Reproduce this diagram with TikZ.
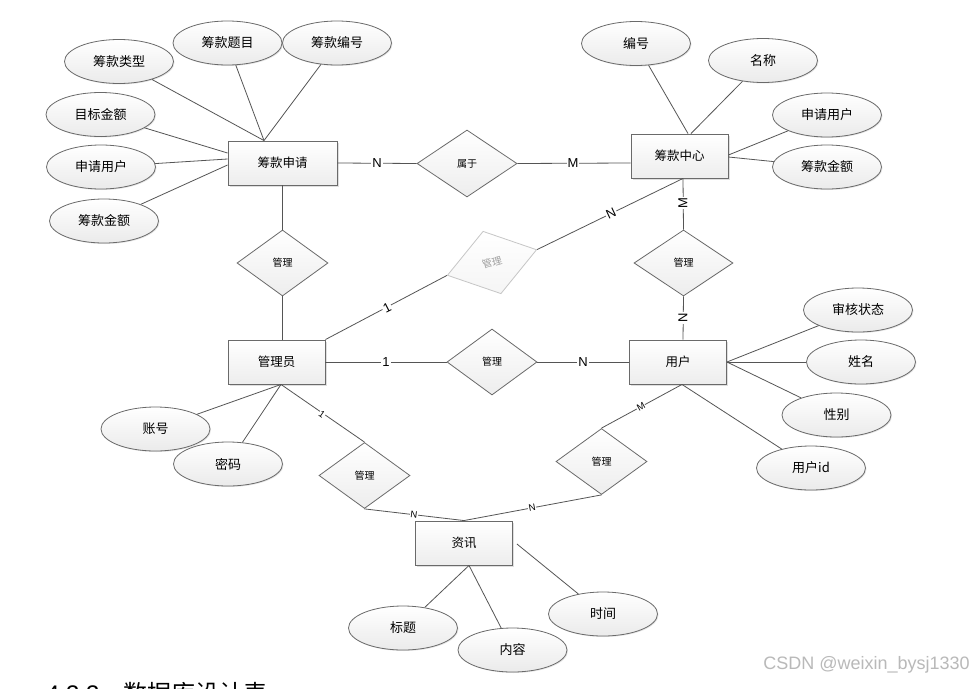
\documentclass[tikz,border=0pt]{standalone}
\usepackage{fontspec}
\setmainfont{Liberation Sans}
\newfontfamily\cjk{Noto Sans CJK SC}
\usetikzlibrary{shapes.geometric,shadows,calc}
\definecolor{lncol}{HTML}{555555}
\definecolor{boxcol}{HTML}{6A6A6A}
\begin{document}
\begin{tikzpicture}[x=1pt,y=-1pt,
  line/.style={draw=lncol, line width=0.8pt},
  ent/.style={rectangle, draw=boxcol, line width=0.9pt, top color=white, bottom color=gray!14,
    minimum width=97pt, minimum height=44pt, inner sep=0pt,
    font=\cjk\fontsize{12.5}{13}\selectfont,
    drop shadow={shadow xshift=1.5pt,shadow yshift=-1.5pt,opacity=0.25}},
  attr/.style={ellipse, draw=boxcol, line width=0.8pt, top color=white, bottom color=gray!16,
    minimum width=109pt, minimum height=44pt, inner sep=0pt,
    font=\cjk\fontsize{13}{13}\selectfont,
    drop shadow={shadow xshift=1pt,shadow yshift=-1pt,opacity=0.2}},
  rel/.style={diamond, draw=boxcol, line width=0.8pt, top color=white, bottom color=gray!14,
    minimum width=91pt, minimum height=66pt, inner sep=0pt,
    font=\cjk\fontsize{10}{10}\selectfont},
  card/.style={fill=white, inner sep=1pt, font=\fontsize{13}{13}\selectfont},
  cards/.style={fill=white, inner sep=0.5pt, font=\fontsize{9.5}{9.5}\selectfont}
]
\useasboundingbox[fill=white] (0,0) rectangle (977,688);

% entities
\node[ent, minimum width=109pt] (zsq) at (282.5,163) {筹款申请};
\node[ent] (zxzx) at (679.5,156) {筹款中心};
\node[ent] (gly) at (276.5,362) {管理员};
\node[ent] (yh) at (678,362) {用户};
\node[ent] (zx) at (464,543) {资讯};

% attributes
\node[attr] (a1) at (119,61.5) {筹款类型};
\node[attr] (a2) at (227.5,43) {筹款题目};
\node[attr] (a3) at (337,43) {筹款编号};
\node[attr] (a4) at (100.5,114.5) {目标金额};
\node[attr] (a5) at (101,167) {申请用户};
\node[attr] (a6) at (104,221) {筹款金额};
\node[attr] (b1) at (636,43.5) {编号};
\node[attr] (b2) at (763,60.5) {名称};
\node[attr] (b3) at (827,115) {申请用户};
\node[attr] (b4) at (827,167) {筹款金额};
\node[attr] (c1) at (858,310) {审核状态};
\node[attr] (c2) at (861,362) {姓名};
\node[attr] (c3) at (836.5,415) {性别};
\node[attr] (c4) at (811,468) {用户id};
\node[attr] (d1) at (155.5,429) {账号};
\node[attr] (d2) at (228,464) {密码};
\node[attr] (e1) at (403,628) {标题};
\node[attr] (e2) at (512.5,650) {内容};
\node[attr] (e3) at (603,614) {时间};

% relationships
\node[rel, minimum width=100pt, minimum height=67pt] (r1) at (467,163.5) {属于};
\node[rel] (r2) at (282.5,263) {管理};
\node[rel, minimum width=99pt] (r3) at (683.5,263) {管理};
\node[rel, minimum width=90pt] (r4) at (492,362) {管理};
\node[rel] (r5) at (364.5,475.5) {管理};
\node[rel] (r6) at (601.5,461.5) {管理};
\node[rel, rotate=16, draw=gray!45, text=gray!75, bottom color=gray!8,
  minimum width=93pt, minimum height=65pt] (rr) at (492,262.5) {管理};

% attribute connectors
\draw[line] (a1) -- ($(zsq.north)+(-18.5,0)$);
\draw[line] (a2) -- ($(zsq.north)+(-18.5,0)$);
\draw[line] (a3) -- ($(zsq.north)+(-18.5,0)$);
\draw[line] (a4) -- ($(zsq.west)+(0,-10)$);
\draw[line] (a5) -- ($(zsq.west)+(0,-4)$);
\draw[line] (a6) -- ($(zsq.west)+(0,2)$);
\draw[line] (b1) -- ($(zxzx.north)+(8.5,0)$);
\draw[line] (b2) -- ($(zxzx.north)+(11.5,0)$);
\draw[line] (b3) -- ($(zxzx.east)+(0,-1)$);
\draw[line] (b4) -- ($(zxzx.east)+(0,1)$);
\draw[line] (c1) -- (yh.east);
\draw[line] (c2) -- (yh.east);
\draw[line] (c3) -- (yh.east);
\draw[line] (c4) -- ($(yh.south)+(4,0)$);
\draw[line] (d1) -- ($(gly.south)+(4.5,0)$);
\draw[line] (d2) -- ($(gly.south)+(4.5,0)$);
\draw[line] (e1) -- ($(zx.south)+(5,0)$);
\draw[line] (e2) -- ($(zx.south)+(5,0)$);
\draw[line] (e3) -- ($(zx.east)+(4,1)$);

% relationship connectors
\draw[line] (zsq.east) -- (r1.west);
\draw[line] (r1.east) -- ($(zxzx.west)+(0,7)$);
\draw[line] (zsq.south) -- (r2.north);
\draw[line] (r2.south) -- ($(gly.north)+(6,0)$);
\draw[line] (gly.north east) -- (rr.west);
\draw[line] (rr.east) -- ($(zxzx.south)+(3.5,0)$);
\draw[line] ($(zxzx.south)+(3.5,0)$) -- (r3.north);
\draw[line] (r3.south) -- ($(yh.north)+(5,0)$);
\draw[line] (gly.east) -- (r4.west);
\draw[line] (r4.east) -- (yh.west);
\draw[line] ($(gly.south)+(4.5,0)$) -- (r5.north);
\draw[line] (r5.south) -- (zx.north);
\draw[line] ($(yh.south)+(4,0)$) -- (r6.north);
\draw[line] (r6.south) -- (zx.north);

% cardinalities
\node[card] (l1) at (377,163) {N};
\node[card] (l2) at (573,163) {M};
\node[card, rotate=27] (l3) at (387,308) {1};
\node[card, rotate=25] (l4) at (611,213) {N};
\node[card, rotate=90] (l5) at (683,203) {M};
\node[card, rotate=90] (l6) at (683,318) {N};
\node[card] (l7) at (386,362) {1};
\node[card] (l8) at (583,362) {N};
\node[cards, rotate=-35] (l9) at (322,414) {1};
\node[cards, rotate=-7] (l10) at (414,515) {N};
\node[cards, rotate=29] (l11) at (641,407) {M};
\node[cards, rotate=11] (l12) at (532,508) {N};

% watermark and cut-off heading
\node[anchor=base east, inner sep=0pt, text=gray!55, font=\fontsize{18}{18}\selectfont] (wm) at (970,669) {CSDN @weixin\_bysj1330};
\node[anchor=base west, inner sep=0pt, font=\fontsize{24}{24}\selectfont] (hd) at (46,702) {4.3.3\quad{\cjk 数据库设计表}};
\end{tikzpicture}
\end{document}
